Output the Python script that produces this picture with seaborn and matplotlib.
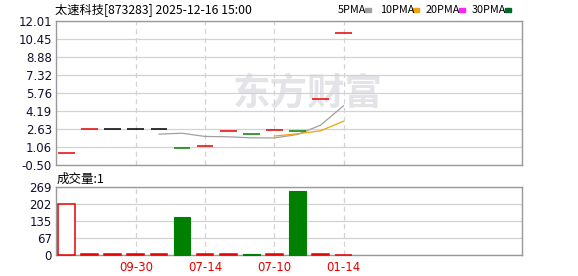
import numpy as np
import pandas as pd
import matplotlib
matplotlib.use("Agg")
import matplotlib.pyplot as plt
from matplotlib.patches import Rectangle
import seaborn as sns

# ---------------- data ----------------
title_text = "太速科技[873283] 2025-12-16 15:00"
vol_title = "成交量:1"
closes = [0.52, 2.60, 2.60, 2.60, 2.60, 0.99, 1.12, 2.45, 2.17, 2.54, 2.45, 5.21, 10.94]
opens = [0.52, 2.60, 2.60, 2.60, 2.60, 0.99, 1.12, 2.45, 2.17, 2.54, 2.45, 5.21, 10.94]
ma5 = [np.nan, np.nan, np.nan, np.nan, 2.18, 2.26, 1.98, 1.95, 1.86, 1.85, 2.15, 2.96, 4.66]
ma10 = [np.nan] * 9 + [2.02, 2.21, 2.47, 3.31]
volumes = [201, 2, 2, 2, 2, 150, 2, 2, 2, 2, 253, 2, 1]
price_ticks = [12.01, 10.45, 8.88, 7.32, 5.76, 4.19, 2.63, 1.06, -0.50]
vol_ticks = [0, 67, 135, 202, 269]
date_pos = [3, 6, 9, 12]
date_labels = ["09-30", "07-14", "07-10", "01-14"]
legend_names = ["5PMA", "10PMA", "20PMA", "30PMA"]
watermark = "东方财富"

# ---------------- style ----------------
sns.set_theme(style="white")
plt.rcParams["font.family"] = ["DejaVu Sans", "Noto Sans CJK SC"]
W, H = 578, 276
fig = plt.figure(figsize=(W / 100, H / 100), dpi=100)
fig.patch.set_facecolor("white")

RED = "#e60000"
GREEN = "#008000"
BLACK = "#000000"
GRID = "#d2d2d2"
SPINE = "#999999"
TICKC = "#10102e"

def px_axes(x0, y0, x1, y1):
    return fig.add_axes([x0 / W, 1 - y1 / H, (x1 - x0) / W, (y1 - y0) / H])

ax = px_axes(56, 21, 522, 165)
axv = px_axes(56, 187, 522, 255)

n = len(closes)
idx = np.arange(n)
colors = []
for i in range(n):
    if i == 0:
        colors.append(RED)
    elif closes[i] > closes[i - 1]:
        colors.append(RED)
    elif closes[i] < closes[i - 1]:
        colors.append(GREEN)
    else:
        colors.append(BLACK)

XL = (-0.455, 19.72)

# ---------------- price panel ----------------
ax.set_axisbelow(True)
ax.text(10.45, 5.7, watermark, fontsize=27, fontweight="bold",
        family=["Noto Sans CJK SC"], color="#e4e4e8", ha="center", va="center", zorder=0.1)
# candle bodies (flat)
for i in range(n):
    lo, hi = min(opens[i], closes[i]), max(opens[i], closes[i])
    if hi - lo < 1e-9:
        ax.hlines(closes[i], i - 0.36, i + 0.36, color=colors[i], lw=1.1, zorder=3)
    else:
        ax.bar(i, hi - lo, bottom=lo, width=0.72, color=colors[i], zorder=3)

df_ma = pd.DataFrame({"i": idx, "ma5": ma5, "ma10": ma10})
sns.lineplot(data=df_ma, x="i", y="ma5", ax=ax, color="#a0a0a0", lw=0.9, zorder=2)
sns.lineplot(data=df_ma, x="i", y="ma10", ax=ax, color="#f0a30a", lw=0.9, zorder=2)

ax.set_xlim(*XL)
ax.set_ylim(price_ticks[-1], price_ticks[0])
ax.set_yticks(price_ticks)
ax.set_yticklabels([f"{t:.2f}" for t in price_ticks])
ax.set_xticks(date_pos)
ax.set_xticklabels([])
ax.grid(axis="y", color=GRID, lw=0.9, ls="-")
ax.grid(axis="x", color=GRID, lw=0.9, ls=(0, (4, 3)))
ax.set_xlabel("")
ax.set_ylabel("")

# ---------------- volume panel ----------------
axv.set_axisbelow(True)
df_v = pd.DataFrame({"i": idx, "vol": volumes})
vcol = [GREEN if c == GREEN else RED for c in colors]
sns.barplot(data=df_v, x="i", y="vol", hue="i", palette=vcol, legend=False,
            width=0.72, ax=axv, zorder=3, saturation=1)
for p in axv.patches:
    k = int(round(p.get_x() + p.get_width() / 2))
    p.set_clip_on(False)
    if vcol[k] == RED:
        p.set_facecolor("white")
        p.set_edgecolor(RED)
        p.set_linewidth(1.1)
    else:
        p.set_facecolor(GREEN)
        p.set_edgecolor(GREEN)
        p.set_linewidth(0.8)
axv.set_xlim(*XL)
axv.set_ylim(0, vol_ticks[-1])
axv.set_yticks(vol_ticks)
axv.set_yticklabels([str(t) for t in vol_ticks])
axv.set_xticks(date_pos)
axv.set_xticklabels(date_labels)
axv.grid(axis="y", color=GRID, lw=0.9, ls="-")
axv.grid(axis="x", color=GRID, lw=0.9, ls=(0, (4, 3)))
axv.set_xlabel("")
axv.set_ylabel("")

for a in (ax, axv):
    for s in a.spines.values():
        s.set_color(SPINE)
        s.set_linewidth(1.0)
        s.set_visible(True)
        s.set_zorder(2.5)
    a.tick_params(axis="y", length=0, pad=3, labelsize=8.5, labelcolor=TICKC)
    a.tick_params(axis="x", length=0, pad=4, labelsize=8.5, labelcolor=RED)

# ---------------- header texts ----------------
def ftext(x, y, s, **kw):
    fig.text(x / W, 1 - y / H, s, **kw)

ftext(55, 10, title_text, fontsize=8.8, family=["Noto Sans CJK SC"], color="black",
      ha="left", va="center")
ftext(57, 179, vol_title, fontsize=9, family=["Noto Sans CJK SC"], color="black",
      ha="left", va="center")

leg_x = [338, 380, 425.7, 471.7]
sq_x = [365, 412.7, 459, 505]
leg_c = ["#a0a0a0", "#f0a30a", "#ff22ff", "#006a2d"]
for name, lx, sx, c in zip(legend_names, leg_x, sq_x, leg_c):
    ftext(lx, 10, name, fontsize=7.8, family=["Noto Sans CJK SC"], color="black",
          ha="left", va="center")
    fig.patches.append(Rectangle((sx / W, 1 - 12 / H), 6 / W, 4 / H,
                                 transform=fig.transFigure, color=c, figure=fig))

fig.savefig("out.png", dpi=100, facecolor="white")
